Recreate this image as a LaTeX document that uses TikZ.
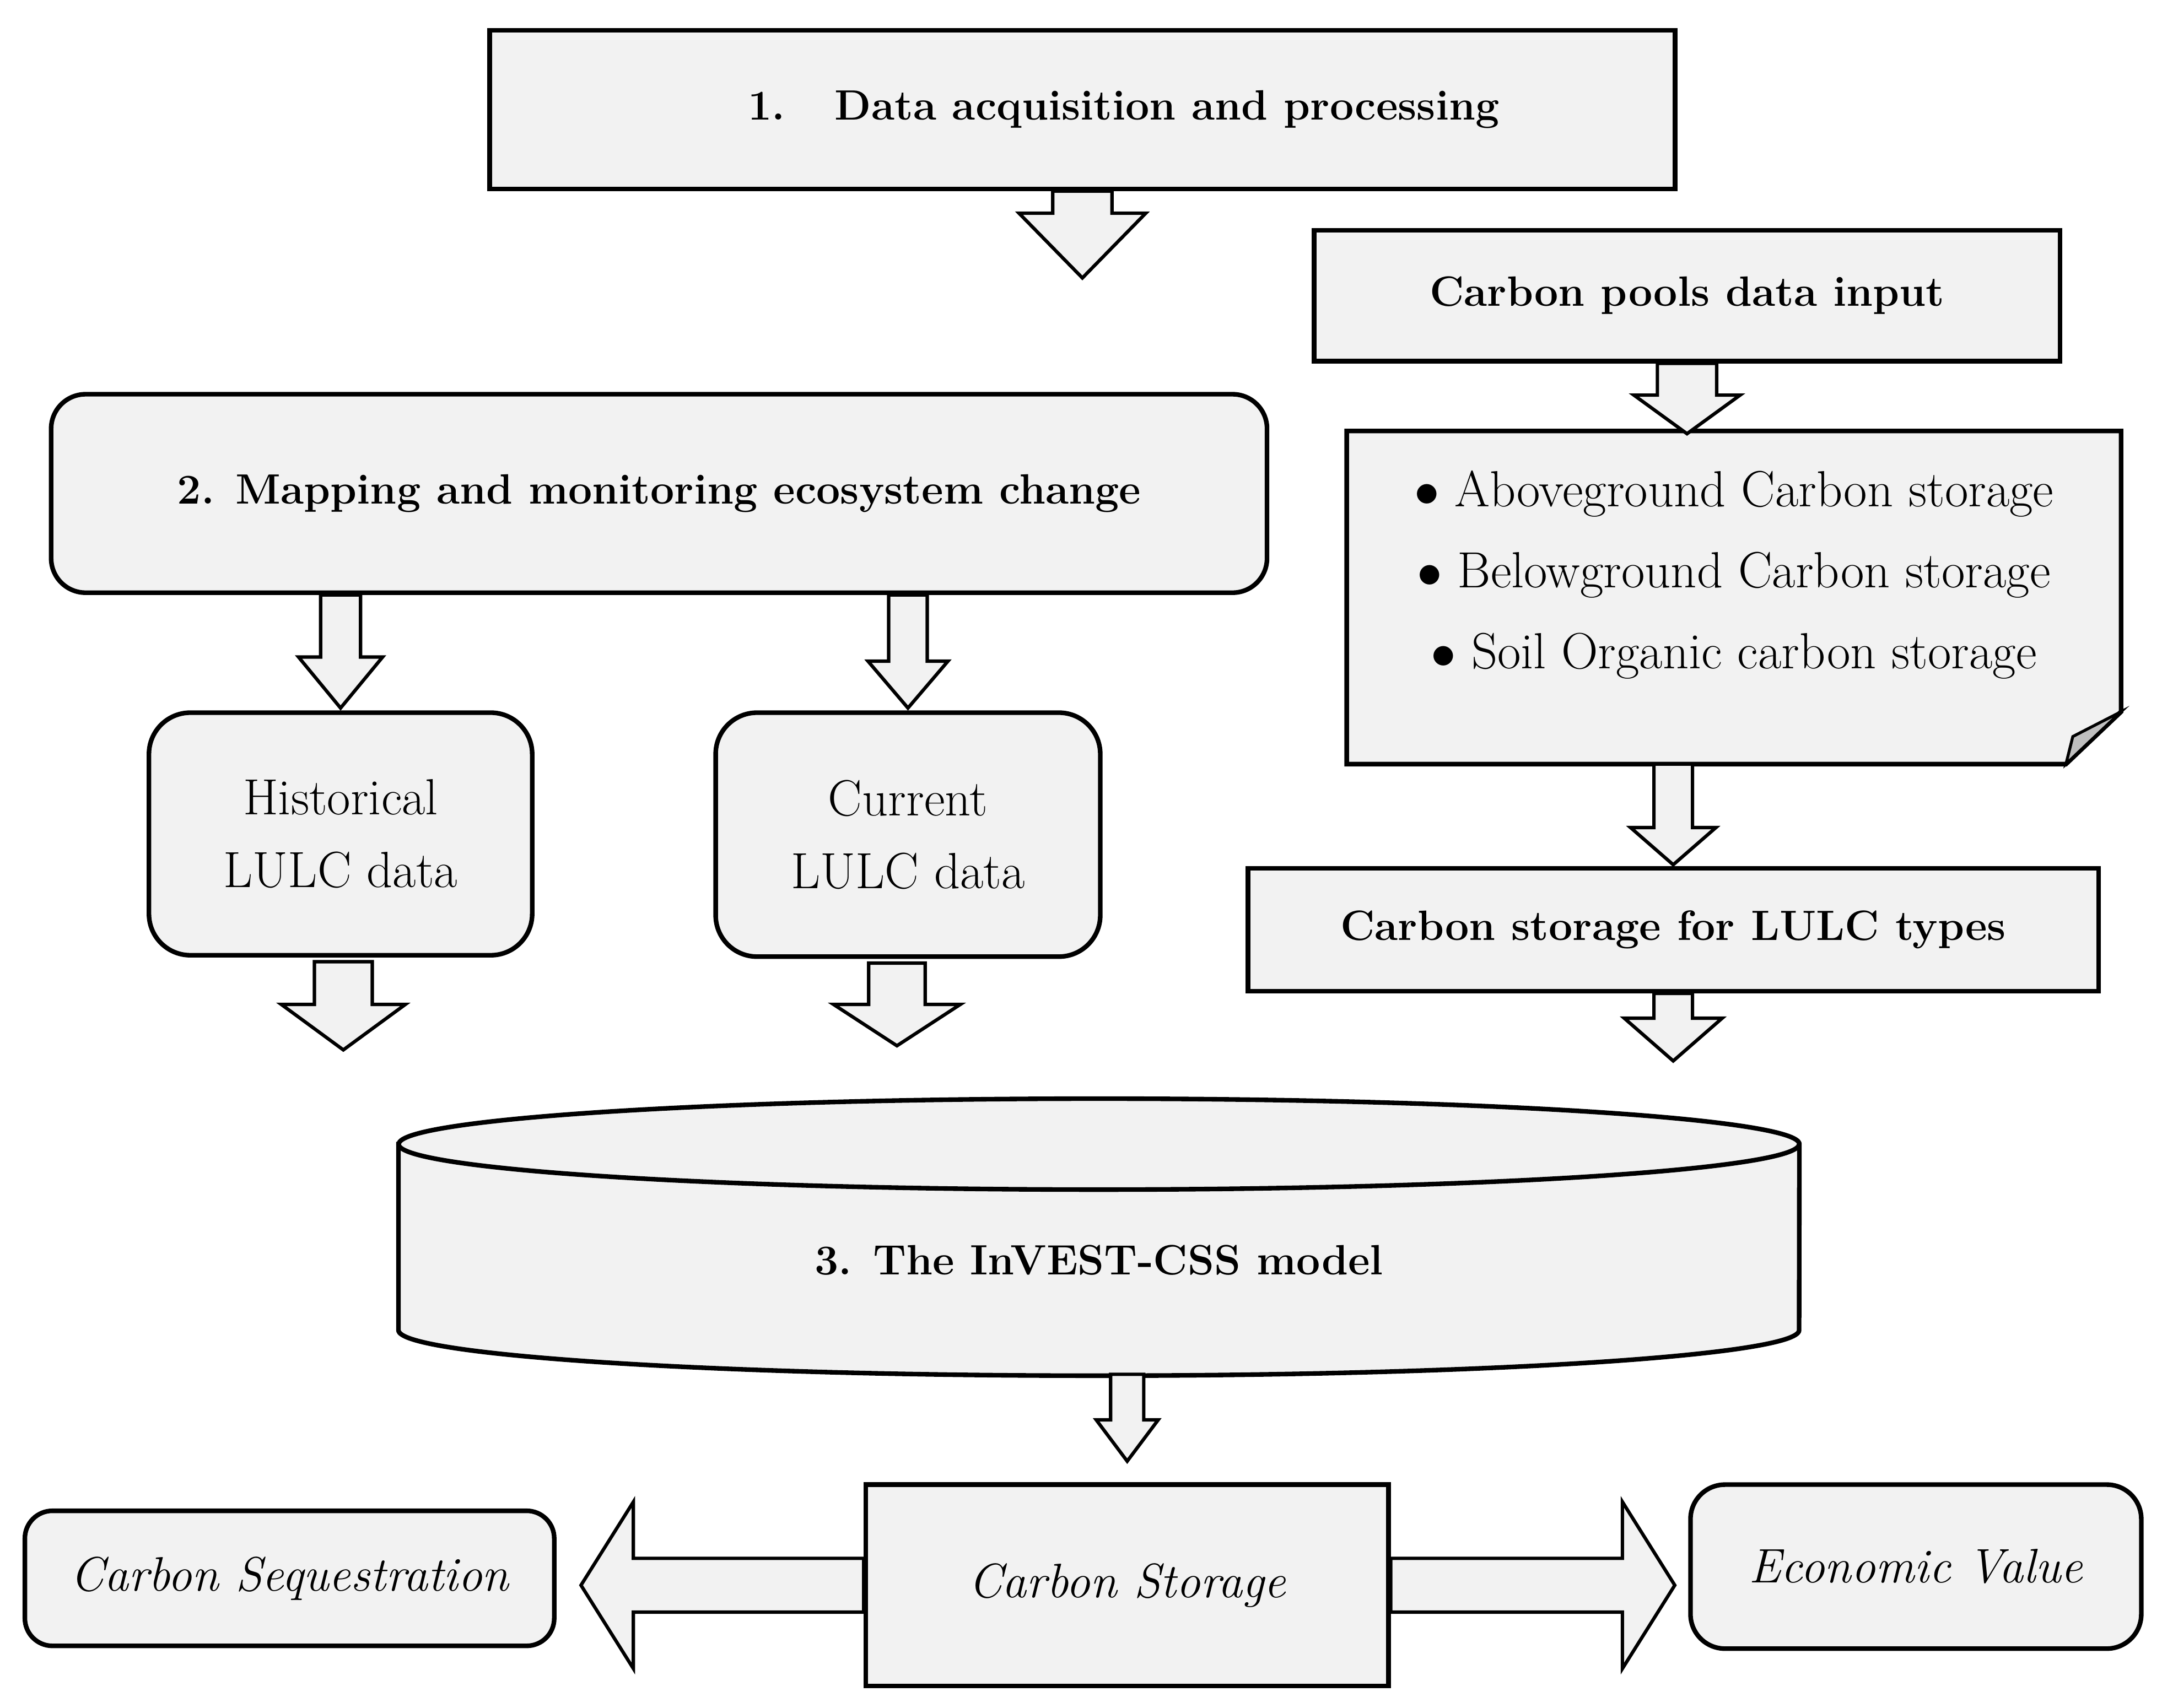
\documentclass[tikz,border=0pt]{standalone}
\usetikzlibrary{calc}
\definecolor{boxgray}{HTML}{F2F2F2}
\definecolor{flapgray}{HTML}{BFBFBF}

\begin{document}
\begin{tikzpicture}
	[
	 x = 0.02cm,
	 y = 0.02cm,
	 every node/.style = {align=center,
		                  inner sep = 0pt,
		                  font=\fontsize{21pt}{33.5pt}\selectfont
	                     },
	 BX/.style = {shape=rectangle, draw, line width=1.9pt, fill=boxgray},
	 RB/.style = {BX, rounded corners=0.5cm},
	 BF/.style = {font=\fontsize{17.5pt}{33.5pt}\selectfont\bfseries},
	 IT/.style = {font=\fontsize{20pt}{33.5pt}\selectfont\itshape},
	 TW/.style = {font=\fontsize{21pt}{30pt}\selectfont},
	 ARR/.style = {draw, line width=1.4pt, fill=boxgray, line join=miter},
	 LN/.style = {draw, line width=1.9pt, fill=boxgray}
	]
	
	% block arrows: start, length, half shaft, half head, head length
	\newcommand{\DArr}[5]{\path[ARR] ($#1+(-#3,0)$) -- ($#1+(-#3,{-(#2-#5)})$)
		-- ($#1+(-#4,{-(#2-#5)})$) -- ($#1+(0,-#2)$) -- ($#1+(#4,{-(#2-#5)})$)
		-- ($#1+(#3,{-(#2-#5)})$) -- ($#1+(#3,0)$) -- cycle;}
	\newcommand{\SArr}[5]{\path[ARR] ($#1+(0,#3)$) -- ($#1+({#2-(#5)},#3)$)
		-- ($#1+({#2-(#5)},#4)$) -- ($#1+(#2,0)$) -- ($#1+({#2-(#5)},-#4)$)
		-- ($#1+({#2-(#5)},-#3)$) -- ($#1+(0,-#3)$) -- cycle;}
	
	\newcommand{\DAP}{\hspace*{1.2cm}1.\hspace{0.72cm}Data acquisition and processing}
	\newcommand{\MMC}{2. Mapping and monitoring ecosystem change}
	\newcommand{\BU}{$\bullet$\hspace{0.3em}}
	\newcommand{\CPL}{\BU Aboveground Carbon storage\\
		             \BU Belowground Carbon storage\\
		             \BU Soil Organic carbon storage}
	
	\useasboundingbox (0,0) rectangle (1568,1239);
	
	% top part
	\node[BX, BF, minimum width=17.2cm, minimum height=2.3cm] (DA) at (785,1159.5) {\DAP};
	\node[BX, BF, minimum width=10.82cm, minimum height=1.9cm] (CP) at (1223.5,1024.5) {Carbon pools data input};
	\node[minimum width=11.22cm, minimum height=4.82cm] (DOC) at (1257.5,805.5) {};
	\path[LN] (DOC.north west) -- (DOC.north east) -- ($(DOC.south east)+(0,38)$)
		-- ($(DOC.south east)+(-40,0)$) -- (DOC.south west) -- cycle;
	\path[LN, fill=flapgray, line width=1.2pt] ($(DOC.south east)+(0,38)$)
		-- ($(DOC.south east)+(-35,20)$) -- ($(DOC.south east)+(-40,0)$) -- cycle;
	\node (POOL) at ($(DOC.center)+(0,16.5)$) {\CPL};
	\node[BX, BF, minimum width=12.34cm, minimum height=1.78cm] (LT) at (1213.5,564.5) {Carbon storage for LULC types};
	
	% mapping part
	\node[RB, BF, minimum width=17.64cm, minimum height=2.88cm] (MM) at (478,881) {\MMC};
	\node[RB, TW, minimum width=5.56cm, minimum height=3.52cm, rounded corners=0.6cm] (HI) at (247,634) {Historical\\LULC data};
	\node[RB, TW, minimum width=5.58cm, minimum height=3.54cm, rounded corners=0.6cm] (CU) at (658.5,633.5) {Current\\LULC data};
	\coordinate (HIs) at ($(HI.south)+(2,-3)$);
	\coordinate (CUs) at ($(CU.south)+(-8,-3)$);
	
	% model
	\coordinate (CYL) at (797,342);
	\coordinate (CYLB) at ($(CYL)+(0,-100)$);
	\path[LN] ($(CYL)+(-508,67)$) -- ($(CYL)+(-508,-68)$)
		arc[start angle=180, end angle=360, x radius=10.16cm, y radius=0.66cm]
		-- ($(CYL)+(508,67)$)
		arc[start angle=0, end angle=180, x radius=10.16cm, y radius=0.66cm] -- cycle;
	\draw[line width=1.9pt] ($(CYL)+(-508,67)$)
		arc[start angle=180, end angle=360, x radius=10.16cm, y radius=0.66cm];
	\node[BF] (INV) at ($(CYL)+(0,-17)$) {3. The InVEST-CSS model};
	
	% results
	\node[BX, IT, minimum width=7.58cm, minimum height=2.92cm] (CS) at (817.5,89) {Carbon Storage};
	\node[RB, IT, minimum width=7.68cm, minimum height=1.96cm, rounded corners=0.4cm] (SQ) at (210,94) {Carbon Sequestration};
	\node[RB, IT, minimum width=6.54cm, minimum height=2.38cm] (EV) at (1389.5,102.5) {Economic Value};
	
	% connectors
	\DArr{(DA.south)}{63}{21.5}{46}{47}
	\DArr{(CP.south)}{51}{21.5}{38.5}{28}
	\DArr{(DOC.south -| LT.north)}{73}{14}{31}{27}
	\DArr{(LT.south)}{49}{14}{35.5}{31}
	\DArr{(MM.south -| HI.north)}{82}{14.5}{30.5}{37}
	\DArr{(MM.south -| CU.north)}{82}{14}{29}{34}
	\DArr{(HIs)}{64}{21}{45}{33}
	\DArr{(CUs)}{60}{20.5}{46}{30}
	\DArr{(CYLB -| CS.north)}{63}{12}{22.5}{30}
	\SArr{(CS.west)}{-205}{19.5}{60.5}{-38}
	\SArr{(CS.east)}{206}{19.5}{60.5}{38}
\end{tikzpicture}
\end{document}
